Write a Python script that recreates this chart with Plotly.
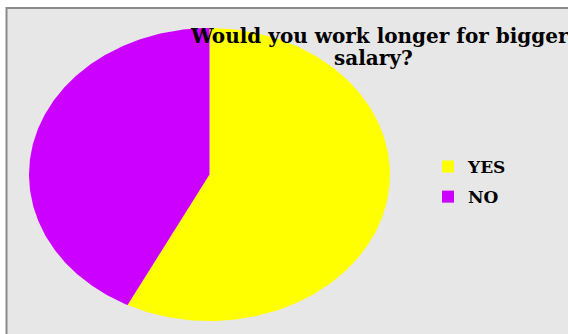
import numpy as np
import plotly.graph_objects as go

# Survey answers
answers = ["YES", "NO"]
counts = [23, 17]
colors = ["#FFFF00", "#CC00FF"]

title_lines = ["Would you work longer for bigger", "salary?"]

W, H = 568, 334
SERIF = "DejaVu Serif"

fig = go.Figure()

# Elliptical pie: wedges drawn clockwise from 12 o'clock on a unit circle,
# the axes' domains stretch the circle into the oval shape.
total = float(sum(counts))
start = 0.0
for name, val, col in zip(answers, counts, colors):
    span = val / total * 2 * np.pi
    t = np.linspace(start, start + span, 200)
    xs = np.concatenate([[0.0], np.sin(t), [0.0]])
    ys = np.concatenate([[0.0], np.cos(t), [0.0]])
    fig.add_trace(go.Scatter(
        x=xs, y=ys, mode="lines", fill="toself", fillcolor=col,
        line=dict(width=0, color=col), hoverinfo="skip", showlegend=False,
    ))
    start += span

# Legend entries as square markers, one group each for extra row spacing
for name, col in zip(answers, colors):
    fig.add_trace(go.Scatter(
        x=[None], y=[None], mode="markers", name="<b>" + name + "</b>",
        legendgroup=name,
        marker=dict(symbol="square", size=10, color=col),
    ))

pie_left, pie_right, pie_top, pie_bottom = 29, 390, 28, 321

# Title, one annotation per line for tight line spacing
title_pos = [(379, 36), (373, 58)]
annotations = [
    dict(text="<b>" + line + "</b>", xref="paper", yref="paper",
         x=px / W, y=1 - py / H, xanchor="center", yanchor="middle",
         showarrow=False,
         font=dict(family=SERIF, size=20, color="black"))
    for line, (px, py) in zip(title_lines, title_pos)
]

fig.update_layout(
    width=W, height=H,
    margin=dict(l=0, r=0, t=0, b=0),
    paper_bgcolor="white",
    plot_bgcolor="rgba(0,0,0,0)",
    xaxis=dict(domain=[pie_left / W, pie_right / W], range=[-1, 1],
               visible=False, fixedrange=True),
    yaxis=dict(domain=[1 - pie_bottom / H, 1 - pie_top / H], range=[-1, 1],
               visible=False, fixedrange=True),
    showlegend=True,
    legend=dict(
        x=428 / W, y=1 - 149 / H, xanchor="left", yanchor="top",
        bgcolor="rgba(0,0,0,0)", itemwidth=30, tracegroupgap=5,
        font=dict(family=SERIF, size=17, color="black"),
        itemsizing="constant",
    ),
    shapes=[dict(
        type="rect", xref="paper", yref="paper", layer="below",
        x0=6.5 / W, x1=1.05, y0=-0.05, y1=1 - 8 / H,
        fillcolor="#e7e7e7", line=dict(color="#8a8a8a", width=2),
    )],
    annotations=annotations,
)

fig.write_html("out.html")
